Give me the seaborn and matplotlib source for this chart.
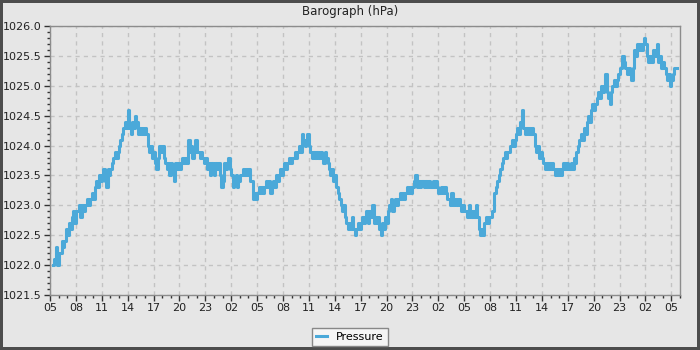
import matplotlib
matplotlib.use("Agg")
import matplotlib.pyplot as plt
import matplotlib.dates as mdates
from matplotlib.ticker import MultipleLocator, FormatStrFormatter
import seaborn as sns
import pandas as pd

# Pressure readings (hPa), one every 10 minutes, starting 05:20 on day 1
pressure_day1 = [
    1022.0, 1022.1, 1022.3, 1022.0, 1022.2,
    1022.2, 1022.4, 1022.3, 1022.4, 1022.6, 1022.5,
    1022.7, 1022.6, 1022.8, 1022.9, 1022.7, 1022.9,
    1022.9, 1023.0, 1022.8, 1023.0, 1022.9, 1023.0,
    1023.0, 1023.1, 1023.0, 1023.1, 1023.2, 1023.1,
    1023.3, 1023.4, 1023.3, 1023.5, 1023.4, 1023.5,
    1023.6, 1023.4, 1023.3, 1023.6, 1023.5, 1023.6,
    1023.7, 1023.8, 1023.9, 1023.8, 1023.9, 1024.0,
    1024.1, 1024.2, 1024.3, 1024.4, 1024.3, 1024.6,
    1024.3, 1024.2, 1024.4, 1024.3, 1024.5, 1024.4,
    1024.2, 1024.3, 1024.2, 1024.3, 1024.2, 1024.3,
    1024.2, 1024.0, 1023.9, 1024.0, 1023.8, 1023.9,
    1023.7, 1023.6, 1023.8, 1024.0, 1023.9, 1024.0,
    1023.8, 1023.7, 1023.6, 1023.7, 1023.5, 1023.7,
    1023.6, 1023.4, 1023.7, 1023.6, 1023.7, 1023.6,
    1023.7, 1023.8, 1023.7, 1023.8, 1023.7, 1024.1,
    1023.9, 1024.0, 1023.8, 1023.9, 1024.1, 1023.9,
    1023.9, 1023.8, 1023.9, 1023.8, 1023.7, 1023.8,
    1023.6, 1023.7, 1023.5, 1023.7, 1023.6, 1023.5,
    1023.7, 1023.6, 1023.7, 1023.5, 1023.3, 1023.4,
    1023.7, 1023.6, 1023.7, 1023.8, 1023.6, 1023.5,
    1023.3, 1023.4, 1023.5, 1023.3, 1023.4, 1023.5,
    1023.5, 1023.6, 1023.5, 1023.6, 1023.5, 1023.6,
    1023.4, 1023.4, 1023.1, 1023.2, 1023.1, 1023.2,
]
pressure_day2 = [
    1023.3, 1023.2, 1023.3, 1023.2, 1023.3, 1023.4,
    1023.3, 1023.4, 1023.2, 1023.3, 1023.4, 1023.3,
    1023.5, 1023.4, 1023.5, 1023.6, 1023.5, 1023.6,
    1023.7, 1023.6, 1023.7, 1023.8, 1023.7, 1023.8,
    1023.8, 1023.9, 1023.8, 1023.9, 1024.0, 1023.9,
    1024.2, 1024.1, 1024.0, 1024.1, 1024.2, 1024.0,
    1023.9, 1023.8, 1023.9, 1023.8, 1023.9, 1023.8,
    1023.8, 1023.9, 1023.8, 1023.7, 1023.9, 1023.8,
    1023.7, 1023.6, 1023.5, 1023.6, 1023.4, 1023.5,
    1023.3, 1023.2, 1023.1, 1023.0, 1022.9, 1023.0,
    1022.8, 1022.7, 1022.6, 1022.7, 1022.6, 1022.8,
    1022.6, 1022.5, 1022.6, 1022.7, 1022.6, 1022.7,
    1022.8, 1022.7, 1022.8, 1022.9, 1022.7, 1022.9,
    1022.8, 1023.0, 1022.7, 1022.8, 1022.7, 1022.8,
    1022.6, 1022.5, 1022.7, 1022.6, 1022.8, 1022.7,
    1022.9, 1023.0, 1023.1, 1022.9, 1023.0, 1023.1,
    1023.0, 1023.1, 1023.2, 1023.1, 1023.2, 1023.1,
    1023.2, 1023.3, 1023.2, 1023.3, 1023.2, 1023.3,
    1023.4, 1023.5, 1023.3, 1023.4, 1023.3, 1023.4,
    1023.4, 1023.3, 1023.4, 1023.3, 1023.4, 1023.3,
    1023.3, 1023.4, 1023.3, 1023.4, 1023.3, 1023.2,
    1023.2, 1023.3, 1023.2, 1023.3, 1023.2, 1023.1,
    1023.1, 1023.0, 1023.2, 1023.0, 1023.1, 1023.0,
    1023.0, 1023.1, 1023.0, 1022.9, 1023.0, 1022.9,
]
pressure_day3 = [
    1022.9, 1022.8, 1023.0, 1022.9, 1022.8, 1022.9,
    1022.8, 1023.0, 1022.8, 1022.6, 1022.5, 1022.6,
    1022.5, 1022.7, 1022.8, 1022.7, 1022.8, 1022.8,
    1022.9, 1022.9, 1023.2, 1023.3, 1023.4, 1023.5,
    1023.6, 1023.7, 1023.8, 1023.9, 1023.8, 1023.9,
    1023.9, 1024.0, 1024.1, 1024.0, 1024.1, 1024.2,
    1024.3, 1024.2, 1024.4, 1024.6, 1024.3, 1024.2,
    1024.3, 1024.2, 1024.3, 1024.2, 1024.3, 1024.2,
    1024.0, 1023.9, 1024.0, 1023.8, 1023.9, 1023.8,
    1023.7, 1023.6, 1023.7, 1023.6, 1023.7, 1023.6,
    1023.7, 1023.6, 1023.5, 1023.6, 1023.5, 1023.6,
    1023.5, 1023.6, 1023.7, 1023.6, 1023.7, 1023.6,
    1023.6, 1023.7, 1023.6, 1023.8, 1023.7, 1023.9,
    1024.0, 1024.1, 1024.2, 1024.1, 1024.3, 1024.2,
    1024.4, 1024.5, 1024.4, 1024.6, 1024.7, 1024.6,
    1024.7, 1024.8, 1024.9, 1024.8, 1025.0, 1024.9,
    1025.0, 1025.2, 1024.9, 1024.8, 1024.7, 1024.9,
    1025.0, 1025.1, 1025.0, 1025.1, 1025.2, 1025.3,
    1025.3, 1025.5, 1025.4, 1025.3, 1025.2, 1025.3,
    1025.2, 1025.1, 1025.3, 1025.6, 1025.5, 1025.7,
    1025.6, 1025.7, 1025.6, 1025.7, 1025.8, 1025.7,
    1025.5, 1025.4, 1025.5, 1025.4, 1025.6, 1025.5,
    1025.6, 1025.7, 1025.4, 1025.5, 1025.3, 1025.4,
    1025.3, 1025.2, 1025.1, 1025.2, 1025.0, 1025.1,
    1025.2, 1025.3, 1025.3, 1025.3,
]
series_name = "Pressure"
title = "Barograph (hPa)"

pressure = pressure_day1 + pressure_day2 + pressure_day3
times = pd.date_range("2024-01-01 05:20", periods=len(pressure), freq="10min")
df = pd.DataFrame({"time": times, series_name: pressure})

BG = "#e6e6e6"
LINE = "#4ba9d9"

fig = plt.figure(figsize=(7, 3.5), dpi=100)
fig.patch.set_facecolor(BG)
fig.patch.set_edgecolor("#4d4d4d")
fig.patch.set_linewidth(3)
ax = fig.add_axes([50 / 700, 1 - 295 / 350, 630 / 700, 269 / 350])
ax.set_facecolor(BG)

sns.lineplot(data=df, x="time", y=series_name, ax=ax, color=LINE,
             linewidth=2.2, drawstyle="steps-post", estimator=None,
             label=series_name, legend=False)

ax.set_xlim(pd.Timestamp("2024-01-01 05:00"), pd.Timestamp("2024-01-04 06:00"))
ax.set_ylim(1021.5, 1026.0)

ax.xaxis.set_major_locator(mdates.HourLocator(byhour=range(2, 24, 3)))
ax.xaxis.set_minor_locator(mdates.HourLocator())
ax.xaxis.set_major_formatter(mdates.DateFormatter("%H"))
ax.yaxis.set_major_locator(MultipleLocator(0.5))
ax.yaxis.set_minor_locator(MultipleLocator(0.1))
ax.yaxis.set_major_formatter(FormatStrFormatter("%.1f"))

ax.tick_params(axis="both", which="major", length=4, width=1, color="#333333",
               labelsize=8, labelcolor="#222222", pad=2)
ax.tick_params(axis="both", which="minor", length=2, width=1, color="#333333")

ax.grid(True, which="major", color="#c3c3c3", linestyle=(0, (3, 3)), linewidth=1)
for s in ax.spines.values():
    s.set_color("#8c8c8c")
    s.set_linewidth(1)

ax.set_xlabel("")
ax.set_ylabel("")
fig.text(0.5, 1 - 12 / 350, title, ha="center", va="center", fontsize=8.5,
         color="#222222")

h, l = ax.get_legend_handles_labels()
leg = fig.legend(h, l, loc="center", bbox_to_anchor=(0.5, 1 - 337 / 350),
                 fontsize=8, frameon=True, fancybox=False, handlelength=1.0,
                 handletextpad=0.8, borderpad=0.4, borderaxespad=0)
leg.get_frame().set_facecolor("#f5f5f5")
leg.get_frame().set_edgecolor("#888888")
leg.get_frame().set_linewidth(1)
leg.get_frame().set_alpha(1)

fig.savefig("out.png", dpi=100, facecolor=BG, edgecolor=fig.get_edgecolor())
